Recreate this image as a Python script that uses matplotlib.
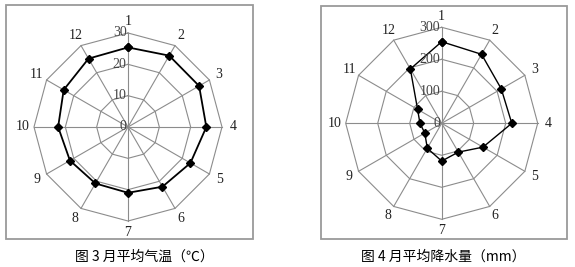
import numpy as np
import matplotlib
matplotlib.use("Agg")
import matplotlib.pyplot as plt
from matplotlib.patches import Rectangle


W, H = 575, 267

MONTHS = ["1", "2", "3", "4", "5", "6", "7", "8", "9", "10", "11", "12"]

# monthly mean temperature (deg C)
TEMP = [25.4, 26.3, 26.2, 25.0, 23.0, 22.0, 21.0, 20.8, 21.4, 22.3, 23.7, 25.2]
TEMP_RINGS = [10, 20, 30]
TEMP_TICKS = [0, 10, 20, 30]

# monthly mean precipitation (mm)
RAIN = [255, 249, 215, 219, 149, 104, 118, 90, 61, 68, 87, 196]
RAIN_RINGS = [100, 200, 300]
RAIN_TICKS = [0, 100, 200, 300]

GRID = "#8c8c8c"
SERIF = "Liberation Serif"
CJK = ["Noto Sans CJK SC", "DejaVu Sans"]


def _px(x, y, w, h):
	# pixel box (top-left origin) -> figure fraction
	return [x/W, 1-(y+h)/H, w/W, h/H]


def _frame(fig, x, y, w, h):
	l, b, fw, fh = _px(x, y, w, h)
	fig.patches.append(Rectangle((l, b), fw, fh, transform=fig.transFigure, fill=False, edgecolor="#9a9a9a", lw=1.3))


def _radar(fig, cx, cy, rpx, values, rings, ticks, label_r, lw):
	ax = fig.add_axes(_px(cx-rpx, cy-rpx, 2*rpx, 2*rpx), projection="polar")
	ax.set_theta_zero_location("N")
	ax.set_theta_direction(-1)
	rmax = rings[-1]
	ax.set_ylim(0, rmax)
	ax.grid(False)
	ax.spines["polar"].set_visible(False)
	ax.set_xticks([])
	ax.set_yticks([])
	ax.patch.set_alpha(0)
	th = np.linspace(0, 2*np.pi, len(MONTHS), endpoint=False)
	thc = np.append(th, th[0])
	for r in rings:
		ax.plot(thc, [r]*len(thc), color=GRID, lw=0.8, zorder=1, clip_on=False)
	for t in th:
		ax.plot([t, t], [0, rmax], color=GRID, lw=0.8, zorder=1, clip_on=False)
	v = list(values)+[values[0]]
	ax.plot(thc, v, color="black", lw=lw, marker="D", ms=3.6, zorder=3, clip_on=False)
	for t, m in zip(th, MONTHS):
		ax.text(t, label_r, m, ha="center", va="center", fontsize=10, family=SERIF, color="#222222", clip_on=False)
	for tk in ticks:
		ax.annotate(str(tk), xy=(0, tk), xytext=(-1, 0), textcoords="offset points", ha="right", va="center", fontsize=10, family=SERIF, color="#444444", annotation_clip=False)
	return ax


fig = plt.figure(figsize=(W/100, H/100), dpi=100)

_frame(fig, 6, 5, 247, 234)
_frame(fig, 321, 6, 246, 233)

_radar(fig, 128, 127, 94, TEMP, TEMP_RINGS, TEMP_TICKS, 33.6, 1.3)
_radar(fig, 441.7, 123.3, 96, RAIN, RAIN_RINGS, RAIN_TICKS, 334, 1.0)

fig.text(144/W, 1-257/H, "图 3 月平均气温（℃）", ha="center", va="center", fontsize=10, family=CJK)
fig.text(443/W, 1-257/H, "图 4 月平均降水量（mm）", ha="center", va="center", fontsize=10, family=CJK)

fig.savefig("out.png", dpi=100)
